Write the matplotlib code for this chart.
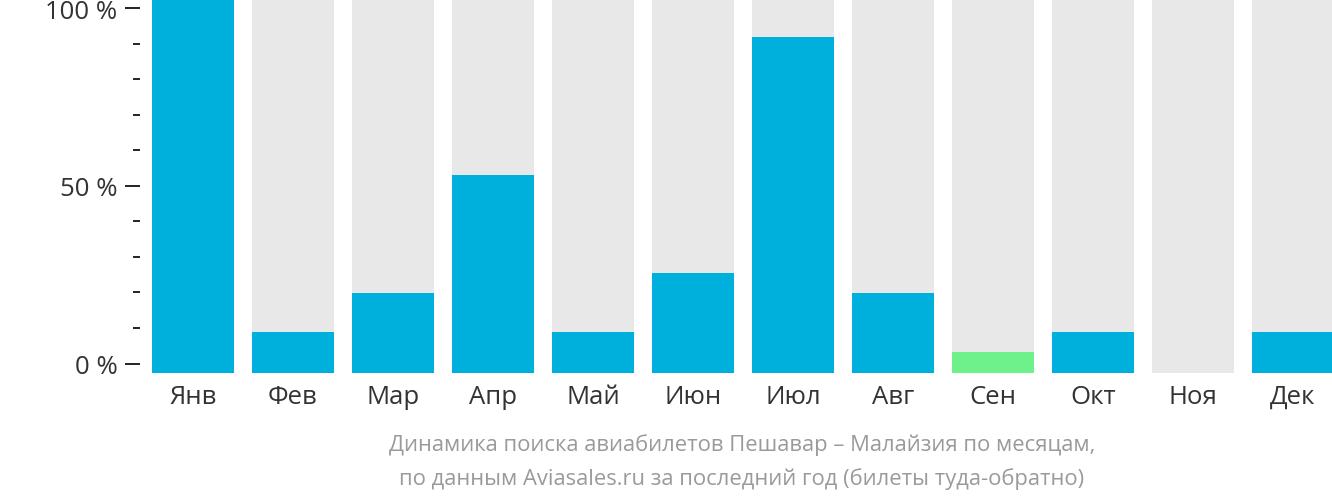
import matplotlib
matplotlib.use('Agg')
import matplotlib.pyplot as plt
import numpy as np

months = ['Янв', 'Фев', 'Мар', 'Апр', 'Май', 'Июн', 'Июл', 'Авг', 'Сен', 'Окт', 'Ноя', 'Дек']
# bar heights, share of the top value (bar scale 0..100)
values = [100, 11, 21.4, 52.9, 11, 26.7, 89.8, 21.4, 5.6, 11, 0, 11]
highlight = 8  # Сен - cheapest month, drawn green

tick_pct = [0, 50, 100]
tick_labels = ['0 %', '50 %', '100 %']
minor_pct = [10, 20, 30, 40, 60, 70, 80, 90]

caption = ('Динамика поиска авиабилетов Пешавар – Малайзия по месяцам,\n'
           'по данным Aviasales.ru за последний год (билеты туда-обратно)')

plt.rcParams['font.family'] = ['Open Sans', 'DejaVu Sans']

W, H = 1332, 502
fig = plt.figure(figsize=(W / 100, H / 100), dpi=100)
ax = fig.add_axes([152 / W, (H - 374) / H, 1182 / W, 374 / H])


# the axis labels sit a little above the bar base in the original
def to_bar(p):
    return 2.54 + np.asarray(p) * 0.9505


x = np.arange(len(months))
colors = ['#00b0dc'] * len(months)
colors[highlight] = '#6ef08a'
ax.bar(x, [100] * len(months), width=0.82, color='#e8e8e8')
ax.bar(x, values, width=0.82, color=colors)

ax.set_xlim(-0.41, len(months) - 1 + 0.41)
ax.set_ylim(0, 100)

ax.set_xticks(x)
ax.set_xticklabels(months)
ax.tick_params(axis='x', length=0, pad=8, labelsize=18.5, labelcolor='#333333')

ax.set_yticks(to_bar(tick_pct))
ax.set_yticklabels(tick_labels)
ax.set_yticks(to_bar(minor_pct), minor=True)
ax.tick_params(axis='y', which='major', length=11, width=1.4, color='#222222', pad=5,
               labelsize=18.5, labelcolor='#333333')
ax.tick_params(axis='y', which='minor', length=5, width=1.4, color='#222222')

for s in ['top', 'right', 'bottom']:
    ax.spines[s].set_visible(False)
ax.spines['left'].set_position(('outward', 9))
ax.spines['left'].set_visible(False)

fig.text(742 / W, 1 - 462 / H, caption, ha='center', va='center',
         fontsize=15.8, color='#9a9a9a', linespacing=1.72)

fig.savefig('out.png', dpi=100)
